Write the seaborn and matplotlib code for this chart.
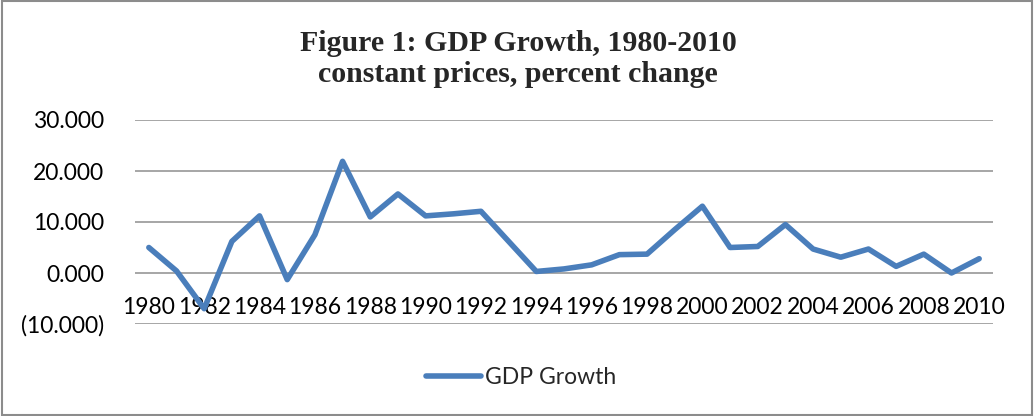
import numpy as np
import pandas as pd
import seaborn as sns
import matplotlib
matplotlib.use("Agg")
import matplotlib.pyplot as plt
from matplotlib.ticker import FuncFormatter
from matplotlib.patches import Rectangle

# GDP growth values (percent change, constant prices)
years = list(range(1980, 2011))
growth = [5.0, 0.4, -7.0, 6.2, 11.2, -1.3, 7.5, 21.9, 11.0, 15.5,
          11.2, 11.6, 12.1, 6.2, 0.3, 0.8, 1.6, 3.6, 3.7, 8.5,
          13.1, 5.0, 5.2, 9.5, 4.7, 3.1, 4.7, 1.3, 3.7, 0.0, 2.8]
y_ticks = [-10, 0, 10, 20, 30]
x_ticks = list(range(1980, 2011, 2))

df = pd.DataFrame({"Year": years, "GDP Growth": growth})

sns.set_style("white")
plt.rcParams['font.family'] = ['Lato', 'DejaVu Sans']

fig = plt.figure(figsize=(10.34, 4.16), dpi=100)
ax = fig.add_axes([135 / 1034, 1 - 324 / 416, (993 - 135) / 1034, (324 - 120) / 416])

sns.lineplot(data=df, x="Year", y="GDP Growth", color="#4a7ebb", linewidth=4,
             label="GDP Growth", ax=ax, zorder=3)

ax.set_xlim(1979.5, 2010.5)
ax.set_ylim(-10, 30)
ax.set_yticks(y_ticks)
ax.set_xticks(x_ticks)
ax.yaxis.set_major_formatter(FuncFormatter(
    lambda v, p: "({:.3f})".format(-v) if v < 0 else "{:.3f}".format(v)))
ax.grid(axis="y", color="#a6a6a6", linewidth=1.4)
ax.grid(axis="x", visible=False)
for s in ax.spines.values():
    s.set_visible(False)
ax.spines['bottom'].set_position(('data', 0))
ax.tick_params(axis="x", length=0, pad=17, labelsize=16.5, colors="black")
ax.tick_params(axis="y", length=0, pad=22, labelsize=16.5, colors="black")
ax.set_xlabel("")
ax.set_ylabel("")

fig.text(0.501, 1 - 59 / 416, "Figure 1: GDP Growth, 1980-2010\nconstant prices, percent change",
         ha="center", va="center", family="Liberation Serif", fontweight="bold",
         fontsize=21.5, linespacing=1.2)

leg = ax.legend(loc="center", bbox_to_anchor=(521 / 1034, 1 - 378 / 416),
                bbox_transform=fig.transFigure, frameon=False, fontsize=16.5,
                handlelength=2.4, handletextpad=0.15)

fig.patches.append(Rectangle((0.002, 0.003), 0.996, 0.994, transform=fig.transFigure,
                             fill=False, edgecolor="#8c8c8c", linewidth=1.5))

fig.savefig("out.png", dpi=100)
